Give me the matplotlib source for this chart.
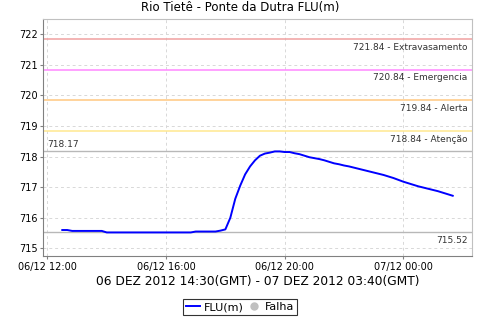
import matplotlib
matplotlib.use("Agg")
import matplotlib.pyplot as plt
import matplotlib.dates as mdates
from matplotlib.lines import Line2D
import numpy as np
import pandas as pd

TITLE = "Rio Tietê - Ponte da Dutra FLU(m)"
XLABEL = "06 DEZ 2012 14:30(GMT) - 07 DEZ 2012 03:40(GMT)"

# 10-minute readings, 06/12 12:30 -> 07/12 01:40 (local time)
t_start = "2012-12-06 12:30"
t_end = "2012-12-07 01:40"
flu = [
    715.60, 715.60, 715.57, 715.57, 715.57, 715.57, 715.57, 715.57, 715.57,  # 12:30-13:50
    715.52, 715.52, 715.52, 715.52, 715.52, 715.52, 715.52, 715.52, 715.52,  # 14:00-15:20
    715.52, 715.52, 715.52, 715.52, 715.52, 715.52, 715.52, 715.52, 715.52,  # 15:30-16:50
    715.55, 715.55, 715.55, 715.55, 715.55, 715.58, 715.62,                  # 17:00-18:00
    716.00, 716.62, 717.05, 717.42, 717.68, 717.88, 718.03, 718.10, 718.13,  # 18:10-19:30
    718.17, 718.17, 718.15, 718.15, 718.11, 718.08, 718.03, 717.98, 717.95,  # 19:40-21:00
    717.92, 717.88, 717.83, 717.78, 717.75, 717.71, 717.68, 717.64, 717.60,  # 21:10-22:30
    717.56, 717.52, 717.48, 717.44, 717.40, 717.35, 717.30, 717.24, 717.18,  # 22:40-00:00
    717.13, 717.08, 717.03, 716.99, 716.95, 716.91, 716.87, 716.82, 716.77,  # 00:10-01:30
    716.72,                                                                  # 01:40
]

# alarm levels
levels = [721.84, 720.84, 719.84, 718.84]
level_names = ["Extravasamento", "Emergencia", "Alerta", "Atenção"]
level_colors = ["#f0a0a0", "#ff88ff", "#ffc880", "#ffe890"]
flu_max = 718.17
flu_min = 715.52

times = pd.date_range(t_start, t_end, freq="10min")

fig = plt.figure(figsize=(4.8, 3.2), dpi=100)
ax = fig.add_axes([43 / 480, 1 - 256 / 320, 429 / 480, 237 / 320])

ax.grid(True, ls=(0, (3, 3)), color="#d8d8d8", lw=0.7)
ax.set_axisbelow(True)

for v, name, c in zip(levels, level_names, level_colors):
    ax.axhline(v, color=c, lw=1.1)
    ax.text(0.99, v - 0.12, f"{v:.2f} - {name}", transform=ax.get_yaxis_transform(),
            ha="right", va="top", fontsize=6.5, color="#333333")

ax.axhline(flu_max, color="#b8b8b8", lw=1)
ax.text(0.01, flu_max + 0.08, f"{flu_max:.2f}", transform=ax.get_yaxis_transform(),
        ha="left", va="bottom", fontsize=6.5, color="#333333")
ax.axhline(flu_min, color="#b8b8b8", lw=1)
ax.text(0.99, flu_min - 0.1, f"{flu_min:.2f}", transform=ax.get_yaxis_transform(),
        ha="right", va="top", fontsize=6.5, color="#333333")

ax.plot(times, flu, color="#0000ff", lw=1.4)

ax.set_xlim(pd.Timestamp("2012-12-06 11:51"), pd.Timestamp("2012-12-07 02:19"))
ax.set_ylim(714.75, 722.5)
ax.set_yticks(np.arange(715, 723))
ax.xaxis.set_major_locator(mdates.HourLocator(byhour=[0, 4, 8, 12, 16, 20]))
ax.xaxis.set_major_formatter(mdates.DateFormatter("%d/%m %H:%M"))
ax.tick_params(labelsize=7, length=2, color="#808080", pad=2)

for s in ["left", "bottom"]:
    ax.spines[s].set_color("#808080")
for s in ["top", "right"]:
    ax.spines[s].set_color("#c0c0c0")

fig.text(0.5, 1 - 8 / 320, TITLE, ha="center", va="center", fontsize=8.5)
fig.text(257.5 / 480, 1 - 282 / 320, XLABEL, ha="center", va="center", fontsize=8.8)

handles = [Line2D([], [], color="#0000ff", lw=1.4),
           Line2D([], [], color="#c0c0c0", marker="o", ms=5, ls="none")]
leg = fig.legend(handles, ["FLU(m)", "Falha"], loc="center",
                 bbox_to_anchor=(240 / 480, 1 - 307 / 320), ncol=2, fontsize=8,
                 frameon=True, fancybox=False, handlelength=1.3, handletextpad=0.3,
                 columnspacing=0.3, borderpad=0.3, borderaxespad=0)
leg.get_frame().set_edgecolor("black")
leg.get_frame().set_linewidth(0.8)

fig.savefig("out.png", dpi=100)
